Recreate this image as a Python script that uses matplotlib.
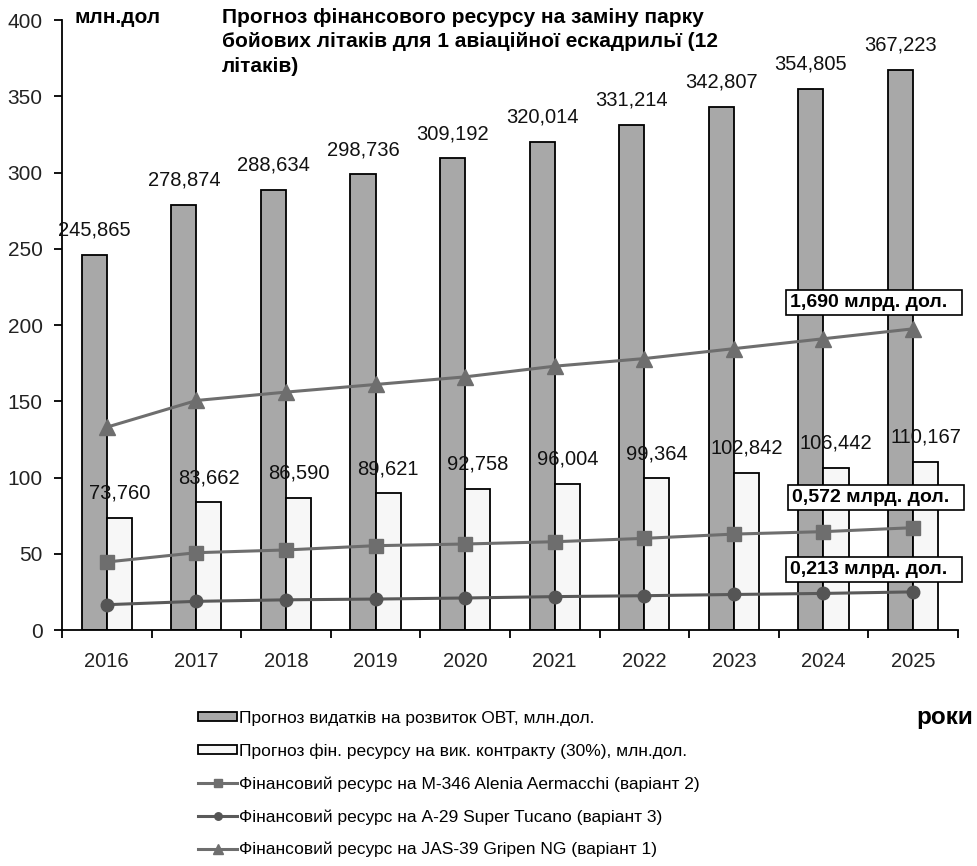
import matplotlib.pyplot as plt
import numpy as np

plt.rcParams['font.family'] = ['Liberation Sans', 'DejaVu Sans']

years = ['2016', '2017', '2018', '2019', '2020', '2021', '2022', '2023', '2024', '2025']
ovt = [245.865, 278.874, 288.634, 298.736, 309.192, 320.014, 331.214, 342.807, 354.805, 367.223]
contract = [73.760, 83.662, 86.590, 89.621, 92.758, 96.004, 99.364, 102.842, 106.442, 110.167]
m346 = [44.6, 50.7, 52.5, 55.3, 56.4, 57.9, 60.1, 62.9, 64.5, 67.1]
tucano = [16.6, 18.8, 19.8, 20.3, 21.0, 21.9, 22.5, 23.3, 24.0, 25.0]
gripen = [133, 150.5, 156, 161, 166, 173, 178, 184.5, 191, 197.5]

ovt_lbl = [f'{v:.3f}'.replace('.', ',') for v in ovt]
contract_lbl = [f'{v:.3f}'.replace('.', ',') for v in contract]

def main():
    fig = plt.figure(figsize=(9.78, 8.66), dpi=100)
    ax = fig.add_axes([0.0634, 0.2725, 0.916, 0.7044])

    x = np.arange(len(years))
    w = 0.28
    b1 = ax.bar(x - w / 2, ovt, w, color='#a8a8a8', edgecolor='black', linewidth=1.3,
                label='Прогноз видатків на розвиток ОВТ, млн.дол.', zorder=2)
    b2 = ax.bar(x + w / 2, contract, w, color='#f7f7f7', edgecolor='black', linewidth=1.3,
                label='Прогноз фін. ресурсу на вик. контракту (30%), млн.дол.', zorder=2)

    for bars, lbls in ((b1, ovt_lbl), (b2, contract_lbl)):
        for r, t in zip(bars, lbls):
            ax.annotate(t, (r.get_x() + r.get_width() / 2, r.get_height()),
                        xytext=(0, 11), textcoords='offset points', ha='center', va='bottom',
                        fontsize=14.5, color='#111111', zorder=5)

    l1, = ax.plot(x, m346, color='#6e6e6e', lw=2.2, marker='s', ms=10, mfc='#6e6e6e', mec='#6e6e6e',
                  label='Фінансовий ресурс на М-346 Alenia Aermacchi (варіант 2)', zorder=4)
    l2, = ax.plot(x, tucano, color='#5a5a5a', lw=2.2, marker='o', ms=9, mfc='#555555', mec='#555555',
                  label='Фінансовий ресурс на А-29 Super Tucano (варіант 3)', zorder=4)
    l3, = ax.plot(x, gripen, color='#6e6e6e', lw=2.2, marker='^', ms=11, mfc='#6e6e6e', mec='#6e6e6e',
                  label='Фінансовий ресурс на JAS-39 Gripen NG (варіант 1)', zorder=4)

    ax.set_xlim(-0.5, len(years) - 0.5)
    ax.set_ylim(0, 400)
    ax.set_yticks(np.arange(0, 401, 50))
    ax.set_xticks(np.arange(-0.5, len(years)), labels=[''] * (len(years) + 1))
    ax.set_xticks(x, labels=years, minor=True)
    ax.tick_params(axis='x', which='major', direction='out', length=6, width=1.3)
    ax.tick_params(axis='x', which='minor', length=0, pad=16, labelsize=14.5, labelcolor='#222222')
    ax.tick_params(axis='y', direction='out', length=6, width=1.3, pad=8, labelsize=15, labelcolor='#222222')
    for s in ('top', 'right'):
        ax.spines[s].set_visible(False)
    for s in ('left', 'bottom'):
        ax.spines[s].set_linewidth(1.3)

    fig.text(0.076, 0.991, 'млн.дол', fontsize=15, fontweight='bold', va='top')
    fig.text(0.227, 0.991, 'Прогноз фінансового ресурсу на заміну парку\n'
             'бойових літаків для 1 авіаційної ескадрильї (12\nлітаків)',
             fontsize=15, fontweight='bold', va='top', linespacing=1.38)

    box = dict(boxstyle='square,pad=0.2', fc='white', ec='black', lw=1.2)
    fig.text(0.808, 0.6507, '1,690 млрд. дол.  ', fontsize=14, fontweight='bold', va='center', bbox=box)
    fig.text(0.810, 0.4255, '0,572 млрд. дол.  ', fontsize=14, fontweight='bold', va='center', bbox=box)
    fig.text(0.808, 0.3424, '0,213 млрд. дол.  ', fontsize=14, fontweight='bold', va='center', bbox=box)

    fig.text(0.995, 0.172, 'роки', fontsize=17.5, fontweight='bold', ha='right', va='center')

    fig.legend(handles=[b1, b2, l1, l2, l3], loc='upper left', bbox_to_anchor=(0.202, 0.179),
               frameon=False, fontsize=12.5, markerscale=0.6,
               handlelength=2.3, handleheight=0.4, handletextpad=0.1, labelspacing=1.0,
               borderpad=0, borderaxespad=0)

    fig.savefig('out.png', dpi=100)

if __name__ == '__main__':
    main()
